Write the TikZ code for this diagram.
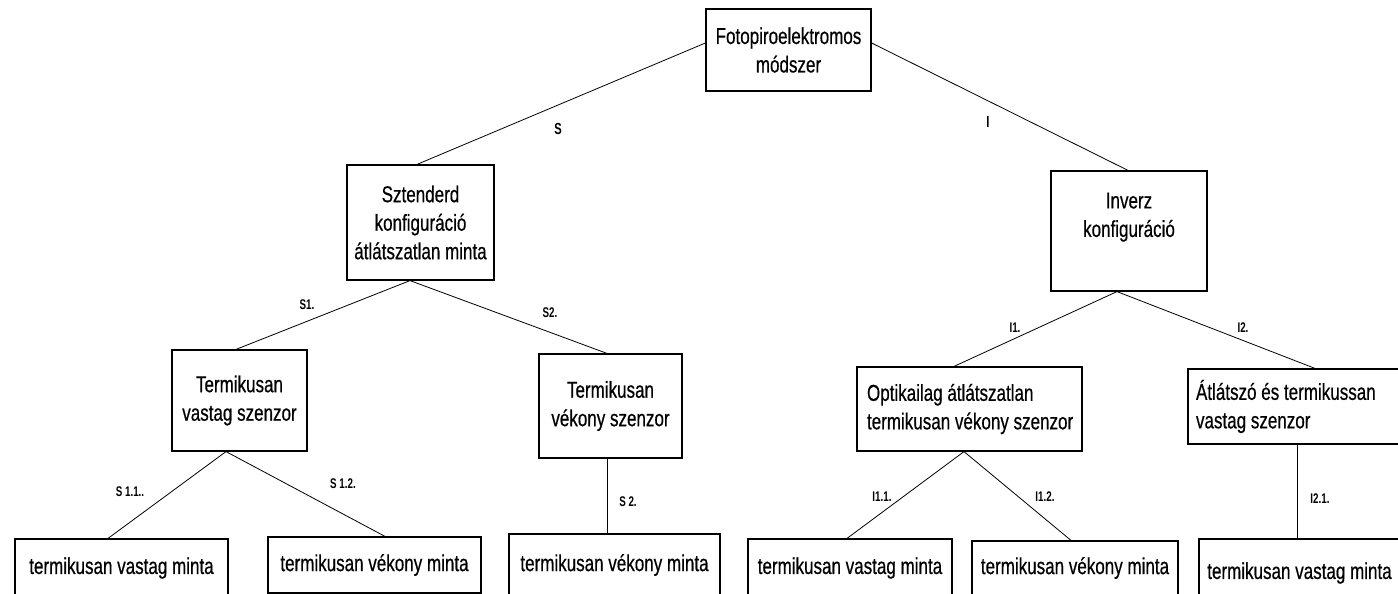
\documentclass[tikz,border=0pt]{standalone}
\usepackage{fontspec}
\setmainfont{Liberation Sans}[FakeStretch=0.74,FakeBold=0.5]
\newfontfamily\lblfont{Liberation Sans}[FakeStretch=0.7]
\begin{document}
\begin{tikzpicture}[x=1pt,y=-1pt,
  box/.style={draw=black, line width=1.2pt, fill=white, rectangle, inner sep=0pt,
    font=\fontsize{23}{28.5}\selectfont, align=center},
  conn/.style={draw=black, line width=0.8pt},
  lbl/.style={font=\lblfont\bfseries\fontsize{14}{16}\selectfont, inner sep=0pt},
  biglbl/.style={font=\lblfont\bfseries\fontsize{16}{18}\selectfont, inner sep=0pt}]
\useasboundingbox (0,0) rectangle (1398,594);
\clip (0,0) rectangle (1398,594);
\fill[white] (0,0) rectangle (1398,594);

% boxes
\node[box, minimum width=165pt, minimum height=82pt] (top) at (788.5,50) {Fotopiroelektromos\\módszer};
\node[box, minimum width=147pt, minimum height=115pt] (szt) at (420.5,222.5) {Sztenderd\\konfiguráció\\átlátszatlan minta};
\node[box, minimum width=156pt, minimum height=120pt] (inv) at (1129,231) {Inverz\\konfiguráció\\[4pt]\mbox{}};
\node[box, minimum width=135pt, minimum height=101pt] (tvs) at (239.5,400.5) {Termikusan\\vastag szenzor};
\node[box, minimum width=143pt, minimum height=104pt] (tks) at (610.5,406) {Termikusan\\vékony szenzor};
\node[box, minimum width=225pt, minimum height=84pt] (opt) at (969.5,409) {\makebox[205pt][l]{Optikailag átlátszatlan}\\\makebox[205pt][l]{termikusan vékony szenzor}};
\node[box, minimum width=226pt, minimum height=75pt] (atl) at (1301,406.5) {\makebox[210pt][l]{Átlátszó és termikussan}\\\makebox[210pt][l]{vastag szenzor}};

\node[box, minimum width=213pt, minimum height=58pt] (b1) at (121.5,568) {termikusan vastag minta};
\node[box, minimum width=213pt, minimum height=56pt] (b2) at (374.5,565) {termikusan vékony minta};
\node[box, minimum width=211pt, minimum height=62pt] (b3) at (614.5,565) {termikusan vékony minta};
\node[box, minimum width=204pt, minimum height=58pt] (b4) at (850,568) {termikusan vastag minta};
\node[box, minimum width=206pt, minimum height=54pt] (b5) at (1075,568) {termikusan vékony minta};
\node[box, minimum width=201pt, minimum height=68pt] (b6) at (1299.5,573) {termikusan vastag minta};

% connectors
\draw[conn] ([yshift=7pt]top.west) -- ([xshift=-3.5pt]szt.north);
\draw[conn] ([yshift=7pt]top.east) -- ([xshift=-1pt]inv.north);
\draw[conn] ([xshift=-10.5pt]szt.south) -- ([xshift=-3.5pt]tvs.north);
\draw[conn] ([xshift=-10.5pt]szt.south) -- ([xshift=-3.5pt]tks.north);
\draw[conn] ([xshift=-12pt]inv.south) -- ([xshift=-15.5pt]opt.north);
\draw[conn] ([xshift=-12pt]inv.south) -- ([xshift=14pt]atl.north);
\draw[conn] ([xshift=-13.5pt]tvs.south) -- ([xshift=-13.5pt]b1.north);
\draw[conn] ([xshift=-13.5pt]tvs.south) -- ([xshift=10.5pt]b2.north);
\draw[conn] ([xshift=-3.5pt]tks.south) -- ([xshift=-3.5pt]tks.south |- b3.north);
\draw[conn] ([xshift=-5.5pt]opt.south) -- ([xshift=-3pt]b4.north);
\draw[conn] ([xshift=-5.5pt]opt.south) -- ([xshift=-4pt]b5.north);
\draw[conn] ([xshift=-4pt]atl.south) -- ([xshift=-4pt]atl.south |- b6.north);

% labels
\node[biglbl] (lS) at (558,129) {S};
\node[biglbl] (lI) at (988,122) {I};
\node[lbl] (lS1) at (307,305) {S1.};
\node[lbl] (lS2) at (550,313) {S2.};
\node[lbl] (lS11) at (130,492) {S 1.1..};
\node[lbl] (lS12) at (343,484) {S 1.2.};
\node[lbl] (lS2b) at (628,502) {S 2.};
\node[lbl] (lI1) at (1015,328) {I1.};
\node[lbl] (lI2) at (1243,328) {I2.};
\node[lbl] (lI11) at (882,497) {I1.1.};
\node[lbl] (lI12) at (1045,497) {I1.2.};
\node[lbl] (lI21) at (1320,499) {I2.1.};
\end{tikzpicture}
\end{document}
